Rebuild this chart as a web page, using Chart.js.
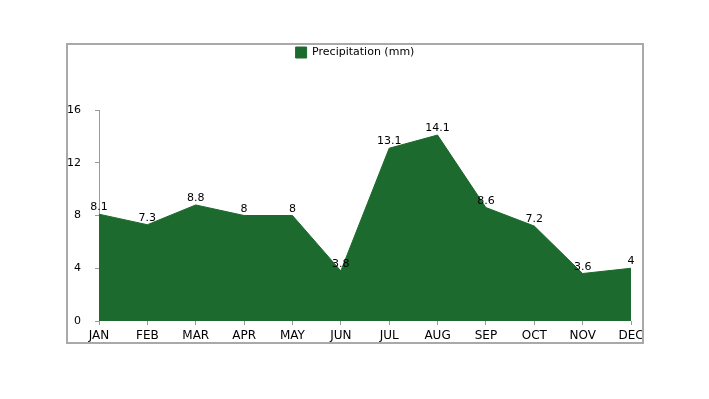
<!DOCTYPE html>
<html>
<head>
<meta charset="utf-8">
<script src="https://cdn.jsdelivr.net/npm/chart.js@4"></script>
<style>
    html, body { margin: 0; padding: 0; background: #fff; }
    #wrap { position: relative; width: 709px; height: 399px; }
    #frame {
        position: absolute; left: 66px; top: 43px;
        width: 574px; height: 297px;
        border: 2px solid #a9a9a9;
        pointer-events: none;
    }
</style>
</head>
<body>
<div id="wrap">
    <canvas id="chart" width="709" height="399"></canvas>
    <div id="frame"></div>
</div>

<script>
const months = ["JAN", "FEB", "MAR", "APR", "MAY", "JUN", "JUL", "AUG", "SEP", "OCT", "NOV", "DEC"];
const precipitation = [8.1, 7.3, 8.8, 8, 8, 3.8, 13.1, 14.1, 8.6, 7.2, 3.6, 4];
const yTicks = [0, 4, 8, 12, 16];

const FONT = "'DejaVu Sans', Verdana, sans-serif";
const GREEN = "#1c6a2d";
const AXIS = "#9a9a9a";

// Legend height fixed so that the plot starts at the right place
const legendHeight = {
    id: "legendHeight",
    beforeInit(chart) {
        const fit = chart.legend.fit;
        chart.legend.fit = function () {
            fit.call(this);
            this.height = 66;
        };
    }
};

// Values written above each point
const valueLabels = {
    id: "valueLabels",
    afterDatasetsDraw(chart) {
        const ctx = chart.ctx;
        const meta = chart.getDatasetMeta(0);
        ctx.save();
        ctx.font = "11px " + FONT;
        ctx.fillStyle = "#000";
        ctx.textAlign = "center";
        ctx.textBaseline = "alphabetic";
        meta.data.forEach((pt, i) => {
            ctx.fillText(String(precipitation[i]), pt.x, pt.y - 4);
        });
        ctx.restore();
    }
};

new Chart(document.getElementById("chart"), {
    type: "line",
    data: {
        labels: months,
        datasets: [{
            label: "Precipitation (mm)",
            data: precipitation,
            fill: "origin",
            backgroundColor: GREEN,
            borderColor: GREEN,
            borderWidth: 1,
            pointRadius: 0,
            tension: 0
        }]
    },
    options: {
        responsive: false,
        animation: false,
        layout: { padding: { left: 67, top: 44, right: 66, bottom: 55 } },
        plugins: {
            tooltip: { enabled: false },
            legend: {
                position: "top",
                labels: {
                    boxWidth: 11,
                    boxHeight: 11,
                    padding: 3,
                    color: "#000",
                    font: { family: FONT, size: 11 }
                }
            }
        },
        scales: {
            x: {
                offset: false,
                grid: { display: true, drawOnChartArea: false, tickLength: 4, color: AXIS },
                border: { display: false },
                ticks: { color: "#000", padding: 4, maxRotation: 0, font: { family: FONT, size: 12 } },
                afterFit(s) { s.height = 23; }
            },
            y: {
                min: 0,
                max: 16,
                afterBuildTicks(s) { s.ticks = yTicks.map(v => ({ value: v })); },
                grid: { display: true, drawOnChartArea: false, tickLength: 4, color: AXIS },
                border: { display: true, color: AXIS },
                ticks: { color: "#000", padding: 14, font: { family: FONT, size: 11 } },
                afterFit(s) { s.width = 32; }
            },
            yRight: {
                position: "right",
                display: true,
                grid: { display: false },
                border: { display: false },
                ticks: { display: false },
                afterFit(s) { s.width = 12; }
            }
        }
    },
    plugins: [legendHeight, valueLabels]
});
</script>
</body>
</html>
